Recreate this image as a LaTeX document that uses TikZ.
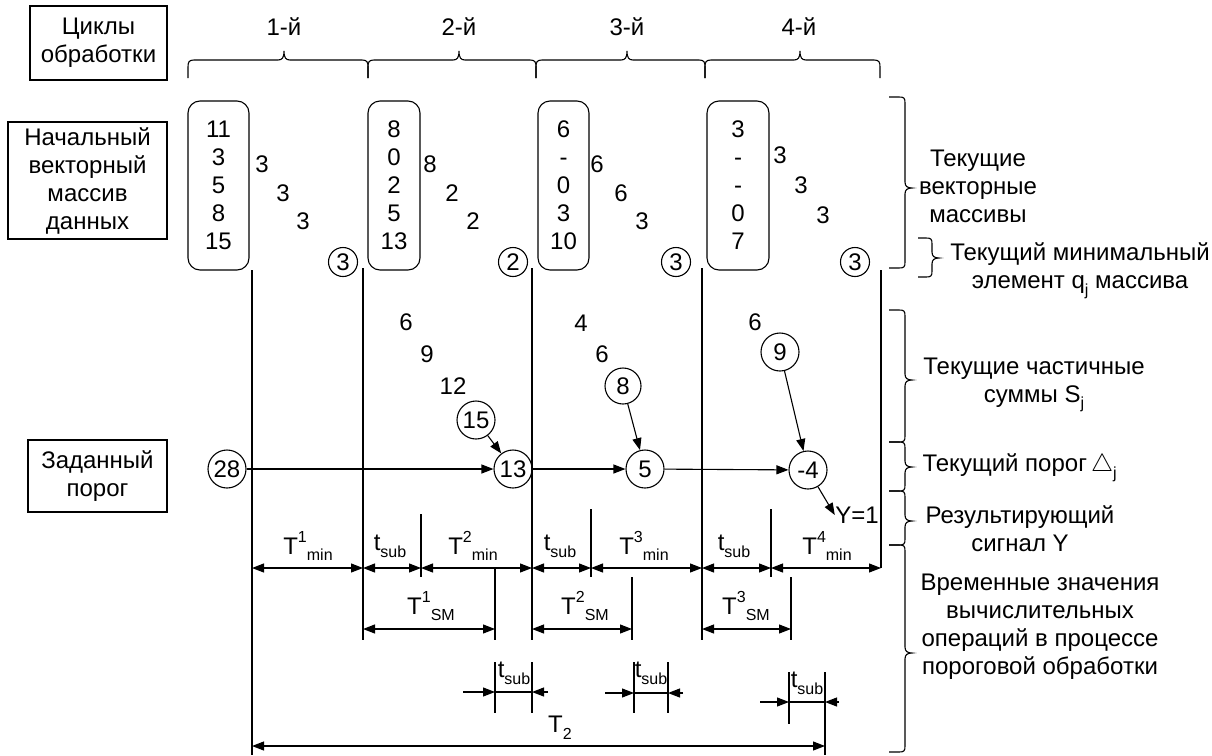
\documentclass[tikz,border=0pt]{standalone}
\usepackage{fontspec}
\setmainfont{Liberation Sans}
\usetikzlibrary{arrows.meta}

% small raised / lowered indices in text font
\newcommand{\sbx}[1]{\raisebox{-0.28em}{\fontsize{16}{16}\selectfont #1}}
\newcommand{\spx}[1]{\raisebox{0.5em}{\fontsize{16}{16}\selectfont #1}}
\newcommand{\Tm}[2]{T\spx{#1}\sbx{#2}}
\newcommand{\ts}{t\sbx{sub}}

% horizontal brace opening downwards: left end, tip, right end
\newcommand{\hbr}[3]{%
  \draw (#1,78) -- (#1,67) .. controls (#1,62) and (#1+1,60) .. (#1+6,60)
    -- (#2-6,60) .. controls (#2-2,60) and (#2,58) .. (#2,51)
    .. controls (#2,58) and (#2+2,60) .. (#2+6,60)
    -- (#3-6,60) .. controls (#3-1,60) and (#3,62) .. (#3,67) -- (#3,78);}

% vertical brace opening to the left: top, tip, bottom, arm x, spine x, tip x
\newcommand{\vbr}[6]{%
  \draw (#4,#1) -- (#5-6,#1) .. controls (#5-1,#1) and (#5,#1+1) .. (#5,#1+6)
    -- (#5,#2-6) .. controls (#5,#2-2) and (#5+2,#2) .. (#6,#2)
    .. controls (#5+2,#2) and (#5,#2+2) .. (#5,#2+6)
    -- (#5,#3-6) .. controls (#5,#3-1) and (#5-1,#3) .. (#5-6,#3) -- (#4,#3);}

\begin{document}
\begin{tikzpicture}[x=1pt,y=-1pt,line width=1.1pt,
  every node/.style={font=\fontsize{24}{28}\selectfont,inner sep=0pt},
  tbox/.style={draw,align=center},
  arr/.style={draw,rounded corners=12pt,align=center},
  circ/.style={draw,circle,minimum size=38pt},
  scirc/.style={draw,circle,minimum size=29pt},
  tip/.style={-{Triangle[length=12pt,width=9pt]}},
  dim/.style={{Triangle[length=12pt,width=9pt]}-{Triangle[length=12pt,width=9pt]}},
  lbl/.style={align=center}]
\useasboundingbox (0,0) rectangle (1212,755);

% ---------- left captions ----------
\node[tbox,minimum width=137pt,minimum height=74pt] (cyc) at (98.5,43) {Циклы\\обработки};
\node[tbox,minimum width=159pt,minimum height=117pt] (init) at (87.5,180.5) {Начальный\\векторный\\массив\\данных};
\node[tbox,minimum width=139pt,minimum height=72pt] (thr) at (97.5,476) {Заданный\\порог};

% ---------- processing cycles ----------
\hbr{188}{284}{368}
\hbr{368}{459}{536}
\hbr{536}{627}{705}
\hbr{705}{800}{880}
\node (cy1) at (284,27) {1-й};
\node (cy2) at (459,27) {2-й};
\node (cy3) at (627,27) {3-й};
\node (cy4) at (799,27) {4-й};

% ---------- vector arrays ----------
\node[arr,minimum width=61pt,minimum height=169pt] (v1) at (218.5,185.5) {11\\3\\5\\8\\15};
\node[arr,minimum width=52pt,minimum height=169pt] (v2) at (394,185.5) {8\\0\\2\\5\\13};
\node[arr,minimum width=51pt,minimum height=169pt] (v3) at (563.5,185.5) {6\\-\\0\\3\\10};
\node[arr,minimum width=62pt,minimum height=169pt] (v4) at (738,185.5) {3\\-\\-\\0\\7};

% running minima
\node (a1) at (262,164) {3};
\node (a2) at (283,193) {3};
\node (a3) at (303,221) {3};
\node[scirc] (q1) at (343,262) {3};
\node (b1) at (430,164) {8};
\node (b2) at (452,193) {2};
\node (b3) at (473,221) {2};
\node[scirc] (q2) at (513,262) {2};
\node (d1) at (597,164) {6};
\node (d2) at (621,193) {6};
\node (d3) at (642,221) {3};
\node[scirc] (q3) at (676,262) {3};
\node (e1) at (780,155) {3};
\node (e2) at (801,185) {3};
\node (e3) at (823,215) {3};
\node[scirc] (q4) at (855,262) {3};

% ---------- cycle boundaries ----------
\draw (252,270) -- (252,755);
\draw (363,268) -- (363,640);
\draw (532,268) -- (532,640);
\draw (702,268) -- (702,640);
\draw[line width=1.7pt] (881,270) -- (881,568);

% ---------- partial sums ----------
\node (s21) at (406,322) {6};
\node (s22) at (427,354) {9};
\node (s23) at (453,386) {12};
\node[circ] (s24) at (476,420) {15};
\node (s31) at (581,323) {4};
\node (s32) at (602,354) {6};
\node[circ,minimum size=36pt] (s33) at (623,386) {8};
\node (s41) at (755,322) {6};
\node[circ] (s42) at (780,352) {9};

% ---------- thresholds ----------
\node[circ] (t0) at (227,469) {28};
\node[circ] (t1) at (513,469) {13};
\node[circ] (t2) at (645,469) {5};
\node[circ] (t3) at (808,470) {-4};
\node (y1) at (857,515) {Y=1};
\draw[tip] (t0) -- (t1);
\draw[tip] (t1) -- (t2);
\draw[tip] (t2) -- (t3);
\draw[tip] (s24) -- (t1);
\draw[tip] (s33) -- (t2);
\draw[tip] (s42) -- (t3);
\draw[tip] (t3) -- (y1.west);

% ---------- timing: minimum search and subtraction ----------
\draw (421,514) -- (421,577);
\draw (591,509) -- (591,577);
\draw (771,509) -- (771,577);
\draw[dim] (252,568) -- (363,568);
\draw[dim] (363,568) -- (421,568);
\draw[dim] (421,568) -- (532,568);
\draw[dim] (532,568) -- (591,568);
\draw[dim] (591,568) -- (702,568);
\draw[dim] (702,568) -- (771,568);
\draw[dim] (771,568) -- (881,568);
\node (l1) at (308,546) {\Tm{1}{min}};
\node (l2) at (390,546) {\ts};
\node (l3) at (473,546) {\Tm{2}{min}};
\node (l4) at (560,546) {\ts};
\node (l5) at (644,546) {\Tm{3}{min}};
\node (l6) at (734,546) {\ts};
\node (l7) at (827,546) {\Tm{4}{min}};

% ---------- timing: summation ----------
\draw (495,569) -- (495,640);
\draw (632,577) -- (632,640);
\draw (791,577) -- (791,640);
\draw[dim] (363,629) -- (495,629);
\draw[dim] (532,629) -- (632,629);
\draw[dim] (702,629) -- (791,629);
\node (m1) at (431,606) {\Tm{1}{SM}};
\node (m2) at (585,606) {\Tm{2}{SM}};
\node (m3) at (746,606) {\Tm{3}{SM}};

% ---------- timing: threshold subtraction ----------
\draw (495,662) -- (495,713);
\draw (532,662) -- (532,713);
\draw[tip] (463,692) -- (495,692);
\draw (495,692) -- (532,692);
\draw[tip] (548,692) -- (532,692);
\node (u1) at (514,673) {\ts};

\draw (634,662) -- (634,713);
\draw (668,662) -- (668,713);
\draw[tip] (605,693) -- (634,693);
\draw (634,693) -- (668,693);
\draw[tip] (683,693) -- (668,693);
\node (u2) at (651,673) {\ts};

\draw (789,672) -- (789,724);
\draw (825,672) -- (825,755);
\draw[tip] (760,702) -- (789,702);
\draw (789,702) -- (825,702);
\draw[tip] (839,702) -- (825,702);
\node (u3) at (807,683) {\ts};

% ---------- total time ----------
\draw[dim] (252,746) -- (825,746);
\node (tt) at (560,728) {T\sbx{2}};

% ---------- right-hand legend ----------
\vbr{97}{188}{268}{889}{905}{912}
\vbr{238}{258}{277}{918}{932}{939}
\vbr{310}{380}{442}{889}{905}{912}
\vbr{442}{467}{491}{889}{905}{912}
\vbr{491}{521}{545}{889}{905}{912}
\vbr{545}{653}{752}{889}{905}{912}
\node[lbl] (r1) at (978,186) {Текущие\\векторные\\массивы};
\node[lbl] (r2) at (1080,271) {Текущий минимальный\\элемент q\sbx{j} массива};
\node[lbl] (r3) at (1034,385) {Текущие частичные\\суммы S\sbx{j}};
\node[anchor=west] (r4) at (922,468) {Текущий порог\,$\bigtriangleup$\sbx{j}};
\node[lbl] (r5) at (1020,529) {Результирующий\\сигнал Y};
\node[lbl] (r6) at (1040,627) {Временные значения\\вычислительных\\операций в процессе\\пороговой обработки};
\end{tikzpicture}
\end{document}
